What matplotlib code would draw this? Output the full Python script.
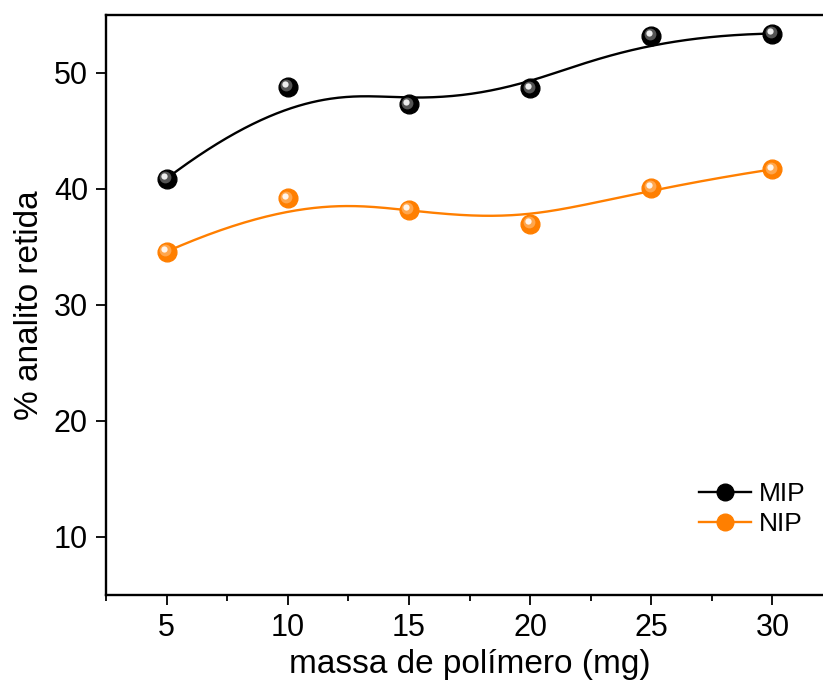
import numpy as np
import matplotlib.pyplot as plt
from matplotlib.transforms import offset_copy

plt.rcParams['font.family'] = ['Liberation Sans', 'DejaVu Sans']

massa = [5, 10, 15, 20, 25, 30]
mip = [40.9, 48.8, 47.3, 48.7, 53.2, 53.4]
nip = [34.6, 39.2, 38.2, 37.0, 40.1, 41.7]

BLACK = '#000000'
ORANGE = '#FF7F00'


def bspline(xs, ys, n=300):
    # clamped cubic B-spline with the points as control points
    P = np.column_stack([xs, ys]).astype(float)
    k = 3
    m = len(P)
    inner = np.linspace(0, 1, m - k + 1)
    t = np.concatenate([[0] * k, inner, [1] * k])
    u = np.linspace(0, 1, n)
    out = []
    for uu in u:
        if uu >= 1:
            out.append(P[-1])
            continue
        # Cox-de Boor basis
        N = np.zeros(len(t) - 1)
        for i in range(len(t) - 1):
            N[i] = 1.0 if t[i] <= uu < t[i + 1] else 0.0
        for d in range(1, k + 1):
            Nn = np.zeros(len(t) - 1 - d)
            for i in range(len(t) - 1 - d):
                a = 0.0
                if t[i + d] != t[i]:
                    a = (uu - t[i]) / (t[i + d] - t[i]) * N[i]
                b = 0.0
                if t[i + d + 1] != t[i + 1]:
                    b = (t[i + d + 1] - uu) / (t[i + d + 1] - t[i + 1]) * N[i + 1]
                Nn[i] = a + b
            N = Nn
        out.append(N @ P)
    out = np.array(out)
    return out[:, 0], out[:, 1]


fig = plt.figure(figsize=(8.23, 6.82), dpi=100)
ax = fig.add_axes([106 / 823, 87 / 682, 727 / 823, 580 / 682])


def balls(x, y, base, mid, label):
    bx, by = bspline(x, y)
    ax.plot(bx, by, color=base, lw=1.7, zorder=2)
    ax.plot(x, y, 'o', ms=13.5, color=base, mec=base, zorder=3)
    tr = offset_copy(ax.transData, fig=fig, x=-1.5, y=1.5, units='dots')
    ax.plot(x, y, 'o', ms=8.5, color=mid, mec='none', alpha=0.8, transform=tr, zorder=4)
    tr2 = offset_copy(ax.transData, fig=fig, x=-2.5, y=2.5, units='dots')
    ax.plot(x, y, 'o', ms=4.5, color='white', mec='none', alpha=0.9, transform=tr2, zorder=5)
    ax.plot([], [], '-o', color=base, ms=12, lw=1.7, label=label)


balls(massa, mip, BLACK, '#6a6a6a', 'MIP')
balls(massa, nip, ORANGE, '#FFB060', 'NIP')

ax.set_xlim(2.5, 32.5)
ax.set_ylim(5, 55)
ax.set_xticks(massa)
ax.set_xticks([2.5, 7.5, 12.5, 17.5, 22.5, 27.5, 32.5], minor=True)
ax.set_yticks([10, 20, 30, 40, 50])
ax.tick_params(axis='both', which='major', direction='out', length=7, width=1.3,
               labelsize=22, pad=6)
ax.tick_params(axis='x', which='minor', direction='out', length=4, width=1.3)
for s in ['left', 'bottom', 'top']:
    ax.spines[s].set_linewidth(1.7)
ax.spines['right'].set_visible(False)

ax.set_xlabel('massa de polímero (mg)', fontsize=24, labelpad=4)
ax.set_ylabel('% analito retida', fontsize=24, labelpad=6)

ax.legend(loc='center left', bbox_to_anchor=(0.815, 0.148),
          frameon=False, fontsize=19, handlelength=2.0, handletextpad=0.3,
          labelspacing=0.25, borderaxespad=0, borderpad=0)

fig.savefig('out.png', dpi=100)
